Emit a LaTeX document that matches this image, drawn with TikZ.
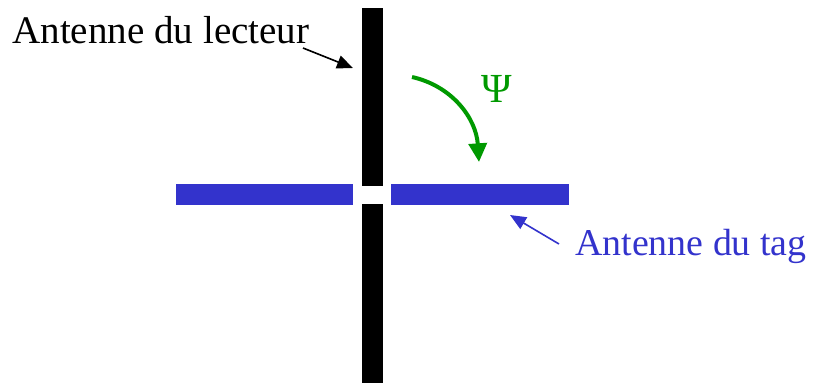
\documentclass[tikz,border=0pt]{standalone}
\usepackage{fontspec}
\setmainfont{Liberation Serif}
\usepackage{tikz}
\usetikzlibrary{positioning,arrows.meta}
\definecolor{tagblue}{HTML}{3333CC}
\definecolor{psigreen}{HTML}{009900}
\tikzset{
  vbar/.style   = {rectangle, fill=black, inner sep=0pt, minimum width=15.75pt, minimum height=#1},
  hbar/.style   = {rectangle, fill=tagblue, inner sep=0pt, minimum height=15.75pt, minimum width=#1},
  lbl/.style    = {inner sep=0pt, anchor=base west, font=\fontsize{#1}{#1}\selectfont},
  pointer/.style = {-{Triangle[length=12pt, width=10pt]}, line width=1.2pt, draw=#1},
  turn/.style   = {-{Triangle[length=14pt, width=13.5pt]}, line width=3pt, draw=psigreen},
}
\begin{document}
\begin{tikzpicture}[x=0.75pt, y=-0.75pt]
  \useasboundingbox (0,0) rectangle (814,383);
  % reader antenna (cut in the middle) and tag antenna
  \node[vbar=133.5pt]   (rtop) at (372.5,97)    {};
  \node[vbar=134.25pt]  (rbot) at (372.5,293.5) {};
  \node[hbar=132.75pt]  (tleft)  at (264.5,194.5) {};
  \node[hbar=133.5pt]   (tright) at (480,194.5)   {};

  % labels
  \node[lbl=29.3] (lecteur) at (12,43) {Antenne du lecteur};
  \node[lbl=28.4, text=tagblue] (tag) at (575,255) {Antenne du tag};
  \node[inner sep=0pt, text=psigreen, font=\fontsize{31}{31}\selectfont] (psi) at (497,89) {Ψ};

  % pointers
  \coordinate (lecteur-from) at (303,48);
  \coordinate (lecteur-to)   at (353,68);
  \draw[pointer=black] (lecteur-from) -- (lecteur-to);
  \coordinate (tag-from) at (559,244);
  \coordinate (tag-to)   at (510,215);
  \draw[pointer=tagblue] (tag-from) -- (tag-to);

  % rotation angle
  \coordinate (turn-from) at (412,77);
  \coordinate (turn-to)   at (479,162);
  \draw[turn] (turn-from) .. controls (452,86) and (476,118) .. (turn-to);
\end{tikzpicture}
\end{document}
